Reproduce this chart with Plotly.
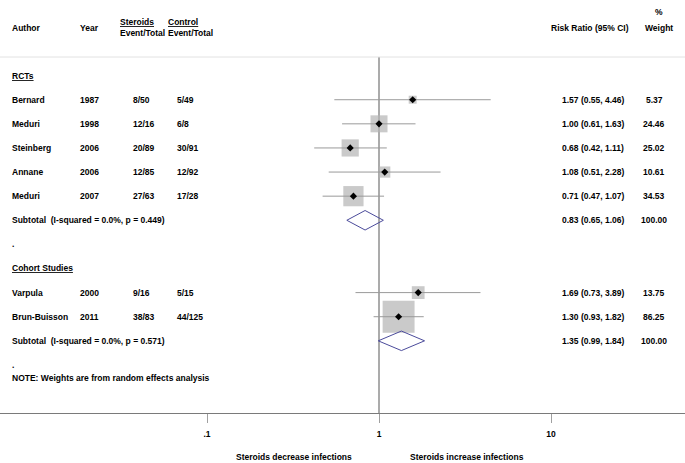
import plotly.graph_objects as go
import math

# ---------------- data ----------------
authors = ["Bernard", "Meduri", "Steinberg", "Annane", "Meduri", "Varpula", "Brun-Buisson"]
years = ["1987", "1998", "2006", "2006", "2007", "2000", "2011"]
steroid_ev = ["8/50", "12/16", "20/89", "12/85", "27/63", "9/16", "38/83"]
control_ev = ["5/49", "6/8", "30/91", "12/92", "17/28", "5/15", "44/125"]
rr = [1.57, 1.00, 0.68, 1.08, 0.71, 1.69, 1.30]
rr_lo = [0.55, 0.61, 0.42, 0.51, 0.47, 0.73, 0.93]
rr_hi = [4.46, 1.63, 1.11, 2.28, 1.07, 3.89, 1.82]
weights = [5.37, 24.46, 25.02, 10.61, 34.53, 13.75, 86.25]
study_rows = [1, 2, 3, 4, 5, 9, 10]

group_labels = ["RCTs", "Cohort Studies"]
group_rows = [0, 8]

sub_labels = ["Subtotal  (I-squared = 0.0%, p = 0.449)",
              "Subtotal  (I-squared = 0.0%, p = 0.571)"]
sub_rr = [0.83, 1.35]
sub_lo = [0.65, 0.99]
sub_hi = [1.06, 1.84]
sub_w = [100.00, 100.00]
sub_rows = [6, 11]

dot_rows = [7, 12]
note_text = "NOTE: Weights are from random effects analysis"
note_row = 12.55

tick_vals = [0.1, 1, 10]
tick_text = [".1", "1", "10"]
left_label = "Steroids decrease infections"
right_label = "Steroids increase infections"

# ---------------- layout constants ----------------
W, H = 685, 463
FONT = "Liberation Sans, Arial, Helvetica, sans-serif"
FS = 8.5
ROW_RANGE = [13.994, -3.136]
DIAMOND_H = 0.405

fig = go.Figure()

# weight squares
fig.add_trace(go.Scatter(
    x=rr, y=study_rows, mode="markers",
    marker=dict(symbol="square", size=[3.44 * math.sqrt(w) for w in weights],
                color="#b4b4b4", line=dict(width=0)),
    hoverinfo="skip", showlegend=False))

# CI lines
cx, cy = [], []
for lo, hi, r in zip(rr_lo, rr_hi, study_rows):
    cx += [lo, hi, None]
    cy += [r, r, None]
fig.add_trace(go.Scatter(x=cx, y=cy, mode="lines",
                         line=dict(color="#9a9a9a", width=1),
                         hoverinfo="skip", showlegend=False))

# point estimates
fig.add_trace(go.Scatter(
    x=rr, y=study_rows, mode="markers",
    marker=dict(symbol="diamond", size=5.5, color="black", line=dict(width=0)),
    hoverinfo="skip", showlegend=False))

# subtotal diamonds
for est, lo, hi, r in zip(sub_rr, sub_lo, sub_hi, sub_rows):
    fig.add_trace(go.Scatter(
        x=[lo, est, hi, est, lo], y=[r, r - DIAMOND_H, r, r + DIAMOND_H, r],
        mode="lines", line=dict(color="#4b4b9b", width=1),
        hoverinfo="skip", showlegend=False))

# header line and null line
fig.add_shape(type="line", xref="paper", yref="y", x0=0, x1=1, y0=-0.771, y1=-0.771,
              line=dict(color="#e2e2e2", width=1))
fig.add_shape(type="line", xref="x", yref="y", x0=1, x1=1, y0=-0.771, y1=ROW_RANGE[0],
              line=dict(color="#ababab", width=2), layer="below")

ann = []


def txt(x, y, s, anchor="left", yref="y"):
    if anchor == "left":
        x -= 1.5
    ann.append(dict(x=x / W, xref="paper", y=y, yref=yref, text="<b>" + s + "</b>",
                    showarrow=False, xanchor=anchor, yanchor="middle", align=anchor,
                    font=dict(family=FONT, size=FS, color="black")))


# header
hdr = -1.98
txt(11, hdr, "Author")
txt(79, hdr, "Year")
txt(119, hdr, "<u>Steroids</u><br>Event/Total")
txt(167, hdr, "<u>Control</u><br>Event/Total")
txt(589.5, hdr, "Risk Ratio (95% CI)", "center")
txt(644, hdr, "Weight")
txt(654, -2.63, "%")

for g, r in zip(group_labels, group_rows):
    txt(11, r, "<u>" + g + "</u>")

for a, yv, s, c, e, lo, hi, w, r in zip(authors, years, steroid_ev, control_ev,
                                          rr, rr_lo, rr_hi, weights, study_rows):
    txt(11, r, a)
    txt(79, r, yv)
    txt(132, r, s)
    txt(176, r, c)
    txt(593, r, f"{e:.2f} ({lo:.2f}, {hi:.2f})", "center")
    txt(654, r, f"{w:.2f}", "center")

for lab, e, lo, hi, w, r in zip(sub_labels, sub_rr, sub_lo, sub_hi, sub_w, sub_rows):
    txt(11, r, lab)
    txt(593, r, f"{e:.2f} ({lo:.2f}, {hi:.2f})", "center")
    txt(654, r, f"{w:.2f}", "center")

for r in dot_rows:
    txt(11, r, ".")
txt(11, note_row, note_text)

# bottom labels
txt(294, (H - 457) / H, left_label, "center", yref="paper")
txt(467, (H - 457) / H, right_label, "center", yref="paper")

lo_log = -379 / 172
hi_log = (W - 379) / 172

fig.update_layout(
    width=W, height=H,
    margin=dict(l=0, r=0, t=0, b=0),
    paper_bgcolor="white", plot_bgcolor="white",
    font=dict(family=FONT, size=FS, color="black"),
    annotations=ann,
    showlegend=False,
    xaxis=dict(type="log", range=[lo_log, hi_log], domain=[0, 1],
               showgrid=False, zeroline=False,
               showline=True, linecolor="#7a7a7a", linewidth=1,
               ticks="outside", ticklen=9, tickcolor="#a0a0a0", tickwidth=1,
               tickvals=tick_vals, ticktext=["<b>" + t + "</b>" for t in tick_text],
               tickfont=dict(family=FONT, size=FS, color="black"),
               ticklabelstandoff=4, fixedrange=True),
    yaxis=dict(range=ROW_RANGE, domain=[50 / H, 1], visible=False,
               showgrid=False, zeroline=False, fixedrange=True),
)

fig.write_html("out.html", config={"displayModeBar": False, "staticPlot": True},
               post_script="document.body.style.margin='0';document.body.style.overflow='hidden';")
